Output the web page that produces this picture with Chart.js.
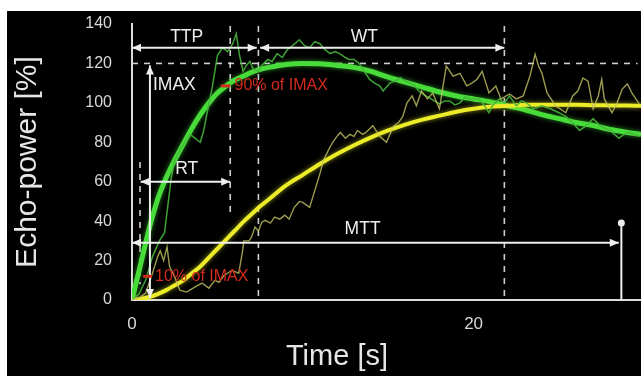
<!DOCTYPE html>
<html><head><meta charset="utf-8">
<script src="https://cdn.jsdelivr.net/npm/chart.js@4.4.1/dist/chart.umd.min.js"></script>
<style>
html,body{margin:0;padding:0;background:#fff;width:641px;height:376px;overflow:hidden}
#wrap{position:absolute;left:7px;top:11px;width:634px;height:365px;background:#000}
</style></head><body>
<div id="wrap"><canvas id="c"></canvas></div>
<script>
// ---- data ----
const fitTime   = [0,0.5,1,1.5,2,2.5,3,3.5,4,4.5,5,5.5,6,6.5,7,7.5,8,9,10,11,12,13,14,15,16,17,18,19,20,21,22,23,24,25,26,27,28,29,29.8];
const fitGreen  = [0,18,36,51,62,71,79,87,94,100,105,108.5,111.5,113.5,115.5,117,118,119.5,120,119.8,119,118,116,113,110.5,108,105.5,103.5,102,100.5,98.5,96.5,94,92,90,88.5,86.5,85,84];
const fitYellow = [0,0.5,1.5,3,5,7.5,10,13.5,17,21.5,26,30.5,35,39.5,43.5,47.5,51,58,63.5,69,74,78.5,82.5,86,89,91.5,93.5,95.5,97,98,98.5,99,99,99,99,98.8,98.7,98.6,98.5];

const rawGreenTime = [0,0.4,0.8,1.2,1.6,1.9,2.1,2.3,2.5,2.8,3.1,3.4,3.7,4.0,4.2,4.4,4.7,5.0,5.3,5.6,5.9,6.1,6.3,6.5,6.7,6.9,7.1,7.4,7.6,7.95,8.2,8.5,8.8,9.1,9.4,9.8,10.1,10.4,10.7,11,11.3,11.6,11.9,12.2,12.5,12.7,13,13.3,13.6,13.9,14.2,14.5,14.7,14.9,15.1,15.4,15.7,16,16.3,16.6,16.8,17.1,17.4,17.7,18,18.3,18.6,18.9,19.2,19.5,19.8,20.3,20.6,20.9,21.1,21.5,21.8,22.1,22.5,22.8,23.1,23.5,24,24.5,25,25.4,25.8,26.2,26.6,27,27.4,27.7,28,28.5,28.8,29.1,29.4,29.7];
const rawGreen     = [0,3,10,22,30,34,48,62,71,76,80,84,82,80,86,95,108,124,128,126,130,135,124,116,119,121,117,116,119,122,121,125,123,127,129,132,129,128,131,130,127,125,126,124.7,123,122,122,120,116,112,110,108.6,106,108,110,111,112.8,111,110,108,106,104,102.7,101,99.5,101,101,99,100,103,102,102,99,95,98.5,102,100,103.5,98.5,101,100,97,98.5,97,95,93,90,86,88.4,92,88.4,87,86,82,84,85,84,83];

const rawYellowTime = [0,0.4,0.8,1.2,1.5,1.65,1.85,2.05,2.2,2.5,2.8,3.2,3.7,4.1,4.5,4.85,5.1,5.4,5.85,6.25,6.45,6.55,6.85,7.0,7.2,7.4,7.6,7.8,8.1,8.35,8.65,8.95,9.2,9.5,9.8,10,10.4,10.7,11,11.2,11.5,11.75,12.0,12.2,12.5,12.75,13,13.2,13.5,13.7,14.1,14.5,14.9,15.3,15.6,15.85,16.1,16.4,16.65,16.95,17.3,17.6,18,18.2,18.4,18.8,19.2,19.6,19.9,20.2,20.5,20.9,21.3,21.6,22.1,22.5,22.9,23.3,23.6,23.8,24,24.3,24.8,25.4,25.8,26.1,26.4,26.7,27,27.3,27.5,27.65,28.1,28.4,28.7,29,29.3,29.7];
const rawYellow     = [0,1,3.5,13.6,22,25,20,27,17,11.6,5,4,6.7,8.6,6,10,9,12.6,15,13.6,23.7,30,30,32,37,35,39.5,40.4,39,42,41,43,41,47,50,49.5,47,55.5,64,70.7,76,80,83,85,82,84,83,86,84,85,88.4,83,80,88,90,93,100,103.5,98.5,106,102,105,97,108,118.7,113.6,115,108.6,110,112,116,105,108.6,102,104.5,102,103.5,113.6,124.7,118.7,115,105,98.5,95,103.5,106,112.6,111,97,103.5,112,102,95,100,107,109.6,104.5,99.5];

const yTicks = [0,20,40,60,80,100,120,140];
const xTicks = [0,20];

// ---- annotations (in data units) ----
const dashedLines = [
  [0,120,29.6,120],
  [0.47,70,0.47,8],
  [5.75,139,5.75,44],
  [7.4,139,7.4,0],
  [21.8,139,21.8,0]
];
const arrowLines = [
  [0,128,7.3,128],
  [7.5,128,21.8,128],
  [1.05,1,1.05,119],
  [0.5,60,5.75,60],
  [0,29,28.5,29]
];
const labels = [
  ['TTP',3.2,133.5,'center','#eeeeee',17.5],
  ['WT',13.6,133.5,'center','#eeeeee',17.5],
  ['IMAX',1.23,109,'left','#eeeeee',17.5],
  ['RT',3.2,66.5,'center','#eeeeee',17.5],
  ['MTT',13.5,36,'center','#eeeeee',17.5],
  ['90% of IMAX',6.0,108.6,'left','#d42a1e',16],
  ['10% of IMAX',1.35,12,'left','#d42a1e',16]
];
const redMarks = [[5.2,5.75,108.6],[0.65,1.17,12]];
const mttMarker = [28.65,0,39];

const pts = (t,v)=>t.map((x,i)=>({x:x,y:v[i]}));
const FONT = "'Liberation Sans', Arial, sans-serif";

const glow = {
  id:'glow',
  beforeDatasetDraw(chart,args){
    const ds = chart.data.datasets[args.index];
    chart.ctx.save();
    if(ds.glow){ chart.ctx.shadowColor = ds.glow; chart.ctx.shadowBlur = 5; }
  },
  afterDatasetDraw(chart){ chart.ctx.restore(); }
};

function head(ctx,x,y,ang){
  const L=9,W=4;
  ctx.beginPath();
  ctx.moveTo(x,y);
  ctx.lineTo(x-L*Math.cos(ang)+W*Math.sin(ang), y-L*Math.sin(ang)-W*Math.cos(ang));
  ctx.lineTo(x-L*Math.cos(ang)-W*Math.sin(ang), y-L*Math.sin(ang)+W*Math.cos(ang));
  ctx.closePath(); ctx.fill();
}

const annot = {
  id:'annot',
  beforeDatasetsDraw(chart){
    const ctx=chart.ctx, xs=chart.scales.x, ys=chart.scales.y;
    ctx.save();
    ctx.strokeStyle='#cfcfcf'; ctx.lineWidth=1.6; ctx.setLineDash([6,6]);
    dashedLines.forEach(l=>{
      ctx.beginPath();
      ctx.moveTo(xs.getPixelForValue(l[0]),ys.getPixelForValue(l[1]));
      ctx.lineTo(xs.getPixelForValue(l[2]),ys.getPixelForValue(l[3]));
      ctx.stroke();
    });
    ctx.restore();
  },
  afterDatasetsDraw(chart){
    const ctx=chart.ctx, xs=chart.scales.x, ys=chart.scales.y;
    ctx.save();
    ctx.strokeStyle='#eeeeee'; ctx.fillStyle='#eeeeee'; ctx.lineWidth=2;
    arrowLines.forEach(l=>{
      const x1=xs.getPixelForValue(l[0]),y1=ys.getPixelForValue(l[1]);
      const x2=xs.getPixelForValue(l[2]),y2=ys.getPixelForValue(l[3]);
      ctx.beginPath(); ctx.moveTo(x1,y1); ctx.lineTo(x2,y2); ctx.stroke();
      const a=Math.atan2(y2-y1,x2-x1);
      head(ctx,x2,y2,a); head(ctx,x1,y1,a+Math.PI);
    });
    const mx=xs.getPixelForValue(mttMarker[0]);
    ctx.beginPath(); ctx.moveTo(mx,ys.getPixelForValue(mttMarker[1])); ctx.lineTo(mx,ys.getPixelForValue(mttMarker[2])); ctx.stroke();
    ctx.beginPath(); ctx.arc(mx,ys.getPixelForValue(mttMarker[2]),3.5,0,Math.PI*2); ctx.fill();
    ctx.strokeStyle='#d42a1e'; ctx.lineWidth=3;
    redMarks.forEach(m=>{
      const y=ys.getPixelForValue(m[2]);
      ctx.beginPath(); ctx.moveTo(xs.getPixelForValue(m[0]),y); ctx.lineTo(xs.getPixelForValue(m[1]),y); ctx.stroke();
    });
    ctx.textBaseline='middle';
    labels.forEach(l=>{
      ctx.font=l[5]+'px '+FONT; ctx.fillStyle=l[4]; ctx.textAlign=l[3];
      ctx.fillText(l[0],xs.getPixelForValue(l[1]),ys.getPixelForValue(l[2]));
    });
    ctx.font='29px '+FONT; ctx.fillStyle='#e6e6e6'; ctx.textAlign='center';
    ctx.fillText('Time [s]', 330, 346);
    ctx.restore();
  }
};

new Chart(document.getElementById('c'),{
  type:'line',
  data:{datasets:[
    {label:'raw yellow',data:pts(rawYellowTime,rawYellow),borderColor:'rgba(195,195,100,0.8)',borderWidth:1.4,pointRadius:0,tension:0},
    {label:'raw green',data:pts(rawGreenTime,rawGreen),borderColor:'rgba(70,180,60,0.9)',borderWidth:1.5,pointRadius:0,tension:0},
    {label:'yellow fit',data:pts(fitTime,fitYellow),borderColor:'#ecec28',borderWidth:4,pointRadius:0,cubicInterpolationMode:'monotone',glow:'rgba(236,236,40,0.6)'},
    {label:'green fit',data:pts(fitTime,fitGreen),borderColor:'#48dc3a',borderWidth:5,pointRadius:0,cubicInterpolationMode:'monotone',glow:'rgba(72,220,58,0.6)'}
  ]},
  options:{
    responsive:true,maintainAspectRatio:false,animation:false,
    layout:{padding:{top:13,left:0,right:0,bottom:0}},
    plugins:{legend:{display:false},tooltip:{enabled:false}},
    scales:{
      x:{type:'linear',min:0,max:29.8,
        afterBuildTicks(s){ s.ticks = xTicks.map(v=>({value:v})); },
        afterFit(s){ s.height=76; s.paddingLeft=0; s.paddingRight=0; },
        grid:{display:false,drawTicks:false},
        border:{display:true,color:'#dcdcdc',width:2},
        ticks:{color:'#d8d8d8',font:{family:FONT,size:17},padding:14,maxRotation:0,autoSkip:false}
      },
      y:{min:0,max:140,
        afterBuildTicks(s){ s.ticks = yTicks.map(v=>({value:v})); },
        afterFit(s){ s.width=125; s.paddingTop=0; s.paddingBottom=0; },
        grid:{display:false,drawTicks:false},
        border:{display:true,color:'#dcdcdc',width:2},
        ticks:{color:'#d8d8d8',font:{family:FONT,size:16},padding:20},
        title:{display:true,text:'Echo-power [%]',color:'#e6e6e6',font:{family:FONT,size:30},padding:{top:3,bottom:0}}
      }
    }
  },
  plugins:[glow,annot]
});
</script>
</body></html>
